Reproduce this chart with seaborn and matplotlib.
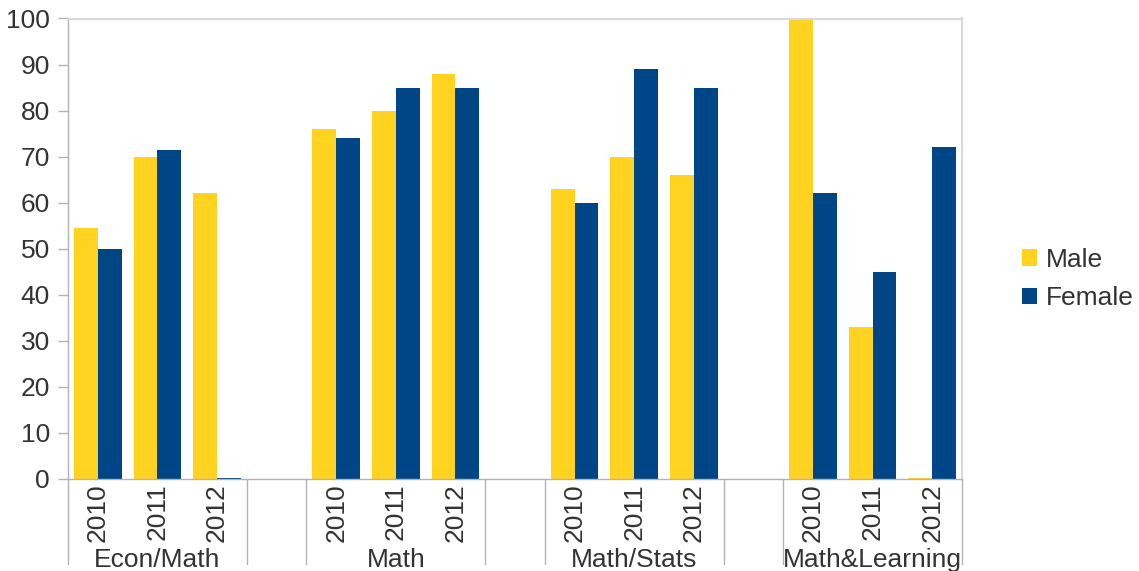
import matplotlib
matplotlib.use("Agg")
import matplotlib.pyplot as plt
import matplotlib.transforms as mtransforms
import seaborn as sns
import pandas as pd
import numpy as np

# ---- data ----
groups = ["Econ/Math", "Math", "Math/Stats", "Math&Learning"]
years = ["2010", "2011", "2012"]
male = [54.5, 70, 62,   76, 80, 88,   63, 70, 66,   100, 33, 0.3]
female = [50, 71.5, 0.3,  74, 85, 85,  60, 89, 85,   62, 45, 72]
series = ["Male", "Female"]
colors = ["#FFD320", "#004586"]
yticks = [0, 10, 20, 30, 40, 50, 60, 70, 80, 90, 100]

# ---- build table with gap slots between groups ----
rows = []
order = []
slot_year = []
for gi, g in enumerate(groups):
    if gi > 0:
        key = f"gap{gi}"
        order.append(key)
        slot_year.append("")
    for yi, y in enumerate(years):
        key = f"{g}|{y}"
        order.append(key)
        slot_year.append(y)
        idx = gi * len(years) + yi
        rows.append({"slot": key, "sex": "Male", "value": male[idx]})
        rows.append({"slot": key, "sex": "Female", "value": female[idx]})
df = pd.DataFrame(rows)

sns.set_theme(style="white")
plt.rcParams["font.family"] = ["Liberation Sans", "DejaVu Sans"]
text_color = "#333333"
fs = 19

fig = plt.figure(figsize=(11.39, 5.71), dpi=100)
ax = fig.add_axes([68 / 1139, 1 - 479 / 571, (962 - 68) / 1139, (479 - 18.5) / 571])

sns.barplot(data=df, x="slot", y="value", hue="sex", order=order,
            hue_order=series, palette=colors, width=0.8, saturation=1,
            errorbar=None, ax=ax, linewidth=0, dodge=True)

ax.set_xlim(-0.5, len(order) - 0.5)
ax.set_ylim(0, 100)
ax.set_yticks(yticks)
ax.set_yticklabels([str(t) for t in yticks], fontsize=fs, color=text_color)
ax.tick_params(axis="y", length=7, width=1, color="#b3b3b3", pad=6, left=True)
ax.set_xlabel("")
ax.set_ylabel("")

# x tick labels: years, rotated
ax.set_xticks(range(len(order)))
ax.set_xticklabels(slot_year, rotation=90, fontsize=fs, color=text_color)
ax.tick_params(axis="x", length=0, pad=3)

for side in ["left", "bottom"]:
    ax.spines[side].set_color("#b3b3b3")
    ax.spines[side].set_linewidth(1)
for side in ["top", "right"]:
    ax.spines[side].set_color("#d9d9d9")
    ax.spines[side].set_linewidth(1.5)

# group labels and separators
trans = mtransforms.blended_transform_factory(ax.transData, ax.transAxes)
pos = 0
bounds = []
for gi, g in enumerate(groups):
    if gi > 0:
        pos += 1
    start = pos - 0.5
    end = pos + len(years) - 0.5
    bounds += [start, end]
    ax.text((start + end) / 2, -0.175, g, transform=trans, ha="center",
            va="center", fontsize=fs, color=text_color, clip_on=False)
    pos += len(years)
for b in bounds:
    ax.plot([b, b], [0, -0.185], transform=trans, color="#b3b3b3",
            linewidth=1, clip_on=False)

# legend
handles, labels = ax.get_legend_handles_labels()
if ax.get_legend() is not None:
    ax.get_legend().remove()
fig.legend(handles, labels, loc="center left",
           bbox_to_anchor=(998 / 1139, 1 - 279 / 571),
           frameon=False, fontsize=fs, handlelength=0.58, handleheight=0.58,
           handletextpad=0.35, labelspacing=0.55, labelcolor=text_color)

fig.savefig("out.png", dpi=100)
